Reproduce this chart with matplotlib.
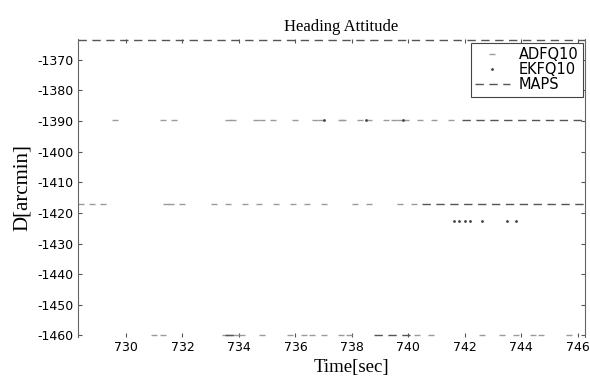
import numpy as np
import matplotlib
matplotlib.use("Agg")
import matplotlib.pyplot as plt

plt.rcParams['axes.unicode_minus'] = False

# quantised heading levels [arcmin]
lvl_top = -1363.6
lvl_a = -1389.7
lvl_b = -1417.2
lvl_c = -1422.8
lvl_d = -1459.8

# ADFQ10 samples (time, level)
adfq_t = [729.6, 731.3, 731.7, 733.6, 733.8, 734.6, 734.8, 735.2, 736.0, 736.7,
          736.9, 737.6, 737.7, 738.3, 738.6, 739.2, 739.5, 739.7, 739.9, 740.4,
          740.9, 741.5,
          728.4, 728.8, 729.2, 731.4, 731.6, 732.0, 733.1, 733.6, 734.2, 734.7,
          735.3, 735.9, 736.4, 737.0, 738.1, 738.6, 739.7, 740.2,
          731.0, 731.3, 733.5, 733.7, 733.9, 734.1, 734.8, 735.8, 736.3, 736.6,
          737.0, 737.6, 737.9, 740.3, 740.8, 742.6, 743.3, 743.8, 744.4, 744.7,
          745.7]
adfq_v = [lvl_a] * 22 + [lvl_b] * 18 + [lvl_d] * 21

# EKFQ10 samples
ekf_t = [741.6, 741.8, 742.0, 742.2, 742.6, 743.5, 743.8, 737.0, 738.5, 739.8]
ekf_v = [lvl_c] * 7 + [lvl_a] * 3

# MAPS segments, NaN splits them
maps_t = [728.3, 746.25, np.nan, 741.9, 746.25, np.nan, 740.5, 746.25, np.nan,
          738.8, 740.1, np.nan, 733.5, 734.0]
maps_v = [lvl_top, lvl_top, np.nan, lvl_a, lvl_a, np.nan, lvl_b, lvl_b, np.nan,
          lvl_d, lvl_d, np.nan, lvl_d, lvl_d]

xticks = [730, 732, 734, 736, 738, 740, 742, 744, 746]
yticks = [-1370, -1380, -1390, -1400, -1410, -1420, -1430, -1440, -1450, -1460]

fig = plt.figure(figsize=(5.9, 3.78), dpi=100)
ax = fig.add_axes([0.1322, 0.1085, 0.859, 0.788])

ax.plot(adfq_t, adfq_v, linestyle='none', marker='_', markersize=5,
        color='#9a9a9a', label='ADFQ10')
ax.plot(ekf_t, ekf_v, linestyle='none', marker='.', markersize=2,
        color='#444444', label='EKFQ10')
ax.plot(maps_t, maps_v, linestyle=(0, (6, 4)), linewidth=1.0,
        color='#555555', label='MAPS')

ax.set_xlim(728.3, 746.25)
ax.set_ylim(-1460.5, -1363.3)
ax.set_xticks(xticks)
ax.set_yticks(yticks)

sans = 'DejaVu Sans'
serif = 'Liberation Serif'
for lab in ax.get_xticklabels() + ax.get_yticklabels():
    lab.set_family(sans)
    lab.set_fontsize(9)

ax.spines['bottom'].set_visible(False)
ax.spines['top'].set_visible(False)
for s in ['left', 'right']:
    ax.spines[s].set_color('#666666')
    ax.spines[s].set_linewidth(0.8)
ax.tick_params(axis='both', direction='in', length=3, color='#555555',
               top=True, right=True, pad=3)

ax.set_title('Heading Attitude', family=serif, fontsize=12, pad=6, x=0.52)
ax.set_xlabel('Time[sec]', family=serif, fontsize=13.5, labelpad=1)
ax.xaxis.set_label_coords(0.54, -0.075)
ax.set_ylabel('D[arcmin]', family=serif, fontsize=15, labelpad=4)

leg = ax.legend(loc='upper right', bbox_to_anchor=(0.996, 0.987),
                prop={'family': sans, 'size': 10.5},
                fancybox=False, edgecolor='#444444', framealpha=1,
                borderaxespad=0, handlelength=2.4, labelspacing=0.0,
                borderpad=0.3, handletextpad=0.6)
leg.get_frame().set_linewidth(0.8)

fig.savefig('out.png', dpi=100)
